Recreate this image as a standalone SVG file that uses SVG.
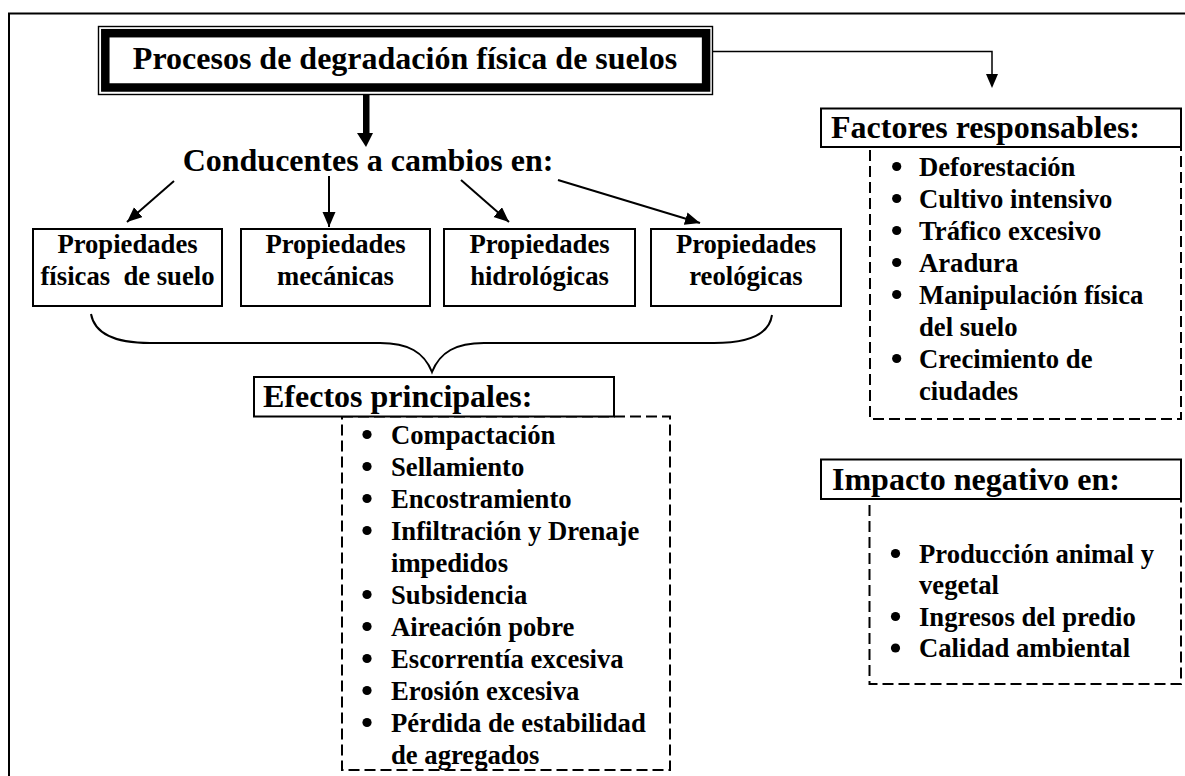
<svg xmlns="http://www.w3.org/2000/svg" width="1185" height="776" viewBox="0 0 1185 776">
<style>
text{font-family:"Liberation Serif","Times New Roman",serif;font-weight:bold;fill:#000}
.h{font-size:32px}
.b{font-size:26.67px}
.c{text-anchor:middle}
.box{fill:#fff;stroke:#000;stroke-width:2}
.dash{fill:#fff;stroke:#000;stroke-width:2;stroke-dasharray:11,5}
.ln{fill:none;stroke:#000;stroke-width:2}
.dot{fill:#000}
</style>
<defs>
<marker id="ah" markerUnits="userSpaceOnUse" markerWidth="16" markerHeight="14" refX="15" refY="6.5" orient="auto">
<path d="M0,0 L15,6.5 L0,13 Z" fill="#000"/>
</marker>
</defs>
<rect width="1185" height="776" fill="#fff"/>
<path d="M9,776 V13.5 H1185" fill="none" stroke="#000" stroke-width="2"/>

<g id="connectors">
<path d="M713,51.5 H992 V74" fill="none" stroke="#000" stroke-width="1.5"/>
<path d="M986,74 L998,74 L992,88 Z" fill="#000"/>
<rect x="363" y="94" width="6.5" height="40" fill="#000"/>
<path d="M357,133 L373,133 L366,147 Z" fill="#000"/>
<line x1="174" y1="181" x2="127" y2="222" class="ln" marker-end="url(#ah)"/>
<line x1="329" y1="176" x2="329" y2="227" class="ln" marker-end="url(#ah)"/>
<line x1="461" y1="180" x2="509" y2="222" class="ln" marker-end="url(#ah)"/>
<line x1="558" y1="180" x2="700" y2="223" class="ln" marker-end="url(#ah)"/>
<path d="M91,314 C95,336 118,343 150,343 L380,343 C408,343 424,352 432,372 C440,352 456,343 484,343 L714,343 C746,343 769,336 772,315" class="ln"/>
</g>

<g id="title">
<rect x="98.5" y="26.5" width="614" height="68" fill="#fff" stroke="#000" stroke-width="1.4"/>
<rect x="105.3" y="33.2" width="600.8" height="54.3" fill="#fff" stroke="#000" stroke-width="8.5"/>
<text x="405" y="68.5" class="h c">Procesos de degradación física de suelos</text>
</g>

<g id="conducentes">
<text x="368" y="171" class="h c">Conducentes a cambios en:</text>
</g>

<g id="prop-fisicas">
<rect x="33" y="229" width="189" height="77" class="box"/>
<text x="127.5" y="253" class="b c">Propiedades</text>
<text x="127.5" y="285" class="b c" style="white-space:pre">físicas  de suelo</text>
</g>
<g id="prop-mecanicas">
<rect x="241" y="229" width="189" height="77" class="box"/>
<text x="335.5" y="253" class="b c">Propiedades</text>
<text x="335.5" y="285" class="b c">mecánicas</text>
</g>
<g id="prop-hidrologicas">
<rect x="444" y="229" width="191" height="77" class="box"/>
<text x="539.5" y="253" class="b c">Propiedades</text>
<text x="539.5" y="285" class="b c">hidrológicas</text>
</g>
<g id="prop-reologicas">
<rect x="651" y="229" width="190" height="77" class="box"/>
<text x="746" y="253" class="b c">Propiedades</text>
<text x="746" y="285" class="b c">reológicas</text>
</g>

<g id="efectos">
<rect x="342" y="416.5" width="328" height="353.5" class="dash"/>
<rect x="254" y="377" width="360" height="39.5" class="box"/>
<text x="263" y="407" class="h">Efectos principales:</text>
<circle cx="367" cy="434.5" r="4.6" class="dot"/>
<text x="391" y="443.5" class="b">Compactación</text>
<circle cx="367" cy="466.5" r="4.6" class="dot"/>
<text x="391" y="475.5" class="b">Sellamiento</text>
<circle cx="367" cy="498.5" r="4.6" class="dot"/>
<text x="391" y="507.5" class="b">Encostramiento</text>
<circle cx="367" cy="530.5" r="4.6" class="dot"/>
<text x="391" y="539.5" class="b">Infiltración y Drenaje</text>
<text x="391" y="571.5" class="b">impedidos</text>
<circle cx="367" cy="594.5" r="4.6" class="dot"/>
<text x="391" y="603.5" class="b">Subsidencia</text>
<circle cx="367" cy="626.5" r="4.6" class="dot"/>
<text x="391" y="635.5" class="b">Aireación pobre</text>
<circle cx="367" cy="658.5" r="4.6" class="dot"/>
<text x="391" y="667.5" class="b">Escorrentía excesiva</text>
<circle cx="367" cy="690.5" r="4.6" class="dot"/>
<text x="391" y="699.5" class="b">Erosión excesiva</text>
<circle cx="367" cy="722.5" r="4.6" class="dot"/>
<text x="391" y="731.5" class="b">Pérdida de estabilidad</text>
<text x="391" y="763.5" class="b">de agregados</text>
</g>

<g id="factores">
<rect x="870" y="147" width="311" height="272" class="dash"/>
<rect x="821" y="108.5" width="360" height="38.5" class="box"/>
<text x="831" y="138" class="h">Factores responsables:</text>
<circle cx="896.7" cy="166.5" r="4.6" class="dot"/>
<text x="919" y="175.5" class="b">Deforestación</text>
<circle cx="896.7" cy="198.5" r="4.6" class="dot"/>
<text x="919" y="207.5" class="b">Cultivo intensivo</text>
<circle cx="896.7" cy="230.5" r="4.6" class="dot"/>
<text x="919" y="239.5" class="b">Tráfico excesivo</text>
<circle cx="896.7" cy="262.5" r="4.6" class="dot"/>
<text x="919" y="271.5" class="b">Aradura</text>
<circle cx="896.7" cy="294.5" r="4.6" class="dot"/>
<text x="919" y="303.5" class="b">Manipulación física</text>
<text x="919" y="335.5" class="b">del suelo</text>
<circle cx="896.7" cy="358.5" r="4.6" class="dot"/>
<text x="919" y="367.5" class="b">Crecimiento de</text>
<text x="919" y="399.5" class="b">ciudades</text>
</g>

<g id="impacto">
<rect x="869.5" y="499" width="311.5" height="185" class="dash"/>
<rect x="821" y="459.5" width="360" height="39.5" class="box"/>
<text x="832" y="490" class="h">Impacto negativo en:</text>
<circle cx="895.5" cy="553.5" r="4.6" class="dot"/>
<text x="919" y="562.5" class="b">Producción animal y</text>
<text x="919" y="594" class="b">vegetal</text>
<circle cx="895.5" cy="616.5" r="4.6" class="dot"/>
<text x="919" y="625.5" class="b">Ingresos del predio</text>
<circle cx="895.5" cy="648" r="4.6" class="dot"/>
<text x="919" y="657" class="b">Calidad ambiental</text>
</g>
</svg>
